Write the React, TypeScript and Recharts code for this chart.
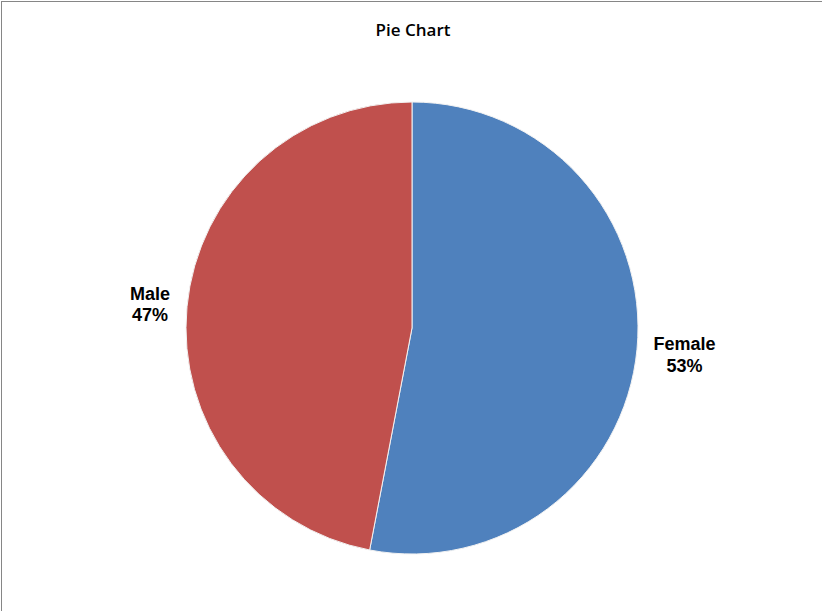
import React from 'react';
import { PieChart, Pie, Cell } from 'recharts';

const NAMES = ['Female', 'Male'];
const VALUES = [53, 47];
const COLORS = ['#4F81BD', '#C0504D'];

const RADIAN = Math.PI / 180;

const data = NAMES.map((name, i) => ({ name, value: VALUES[i] }));

const renderLabel = (props: any) => {
  const { cx, cy, midAngle, outerRadius, percent, name } = props;
  // push label out so its inner edge sits just outside the pie
  const r = outerRadius + 16 + name.length * 5.3;
  const x = cx + r * Math.cos(-midAngle * RADIAN);
  const y = cy + r * Math.sin(-midAngle * RADIAN);
  return (
    <text
      x={x}
      y={y}
      textAnchor="middle"
      fill="#000"
      fontFamily="'Liberation Sans', Arial, sans-serif"
      fontWeight="bold"
      fontSize={18}
    >
      <tspan x={x} y={y - 3.5}>{name}</tspan>
      <tspan x={x} y={y + 18}>{`${Math.round(percent * 100)}%`}</tspan>
    </text>
  );
};

const App: React.FC = () => {
  return (
    <div
      style={{
        position: 'fixed',
        left: 0,
        top: 0,
        width: 822,
        height: 611,
        background: '#fff',
        overflow: 'hidden',
      }}
    >
      <div
        style={{
          position: 'absolute',
          left: 1,
          top: 1,
          width: 840,
          height: 640,
          borderLeft: '1px solid #868686',
          borderTop: '1px solid #868686',
        }}
      />
      <div
        style={{
          position: 'absolute',
          left: 0,
          top: 18,
          width: 826,
          textAlign: 'center',
          fontFamily: "'Open Sans', sans-serif",
          fontWeight: 600,
          fontSize: 17,
          color: '#000',
        }}
      >
        Pie Chart
      </div>
      <PieChart width={822} height={611} style={{ position: 'absolute', left: 0, top: 0 }}>
        <Pie
          data={data}
          dataKey="value"
          nameKey="name"
          cx={407}
          cy={323}
          outerRadius={226}
          startAngle={90}
          endAngle={-270}
          stroke="#f2f2f2"
          strokeWidth={1}
          label={renderLabel}
          labelLine={false}
          isAnimationActive={false}
        >
          {data.map((entry, index) => (
            <Cell key={`cell-${index}`} fill={COLORS[index % COLORS.length]} />
          ))}
        </Pie>
      </PieChart>
    </div>
  );
};

export default App;
